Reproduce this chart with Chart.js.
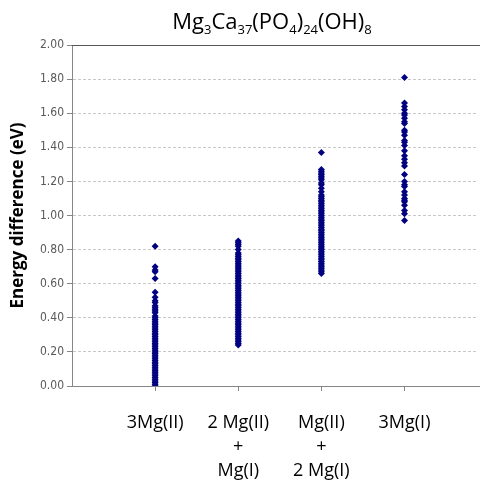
<!DOCTYPE html>
<html>
<head>
<meta charset="utf-8">
<script src="https://cdn.jsdelivr.net/npm/chart.js@4"></script>
<style>
  body { margin: 0; background: #fff; }
  #wrap { position: relative; width: 480px; height: 484px; overflow: hidden; }
  #title {
    position: absolute; left: 64px; right: 0; top: 6px;
    text-align: center; font-family: "Open Sans", sans-serif;
    font-size: 22px; color: #000; line-height: 28px;
  }
  #title sub { font-size: 13px; vertical-align: -5px; line-height: 0; }
</style>
</head>
<body>
<div id="wrap">
  <canvas id="myChart" width="480" height="484"></canvas>
  <div id="title">Mg<sub>3</sub>Ca<sub>37</sub>(PO<sub>4</sub>)<sub>24</sub>(OH)<sub>8</sub></div>
</div>
<script>
// categories on the x axis (placed at 1, 2, 3, 4)
var categories = [
  ['3Mg(II)'],
  ['2 Mg(II)', '+', 'Mg(I)'],
  ['Mg(II)', '+', '2 Mg(I)'],
  ['3Mg(I)']
];
var xTicks = [1, 2, 3, 4];
var yTicks = [0, 0.2, 0.4, 0.6, 0.8, 1.0, 1.2, 1.4, 1.6, 1.8, 2.0];

// energy differences (eV)
var mg3II = [0.82, 0.70, 0.68, 0.67, 0.63, 0.55, 0.52, 0.50, 0.49, 0.47, 0.46, 0.45,
  0.44, 0.43, 0.41, 0.40, 0.39, 0.38, 0.37, 0.36, 0.35, 0.34, 0.33, 0.32, 0.31, 0.30,
  0.29, 0.28, 0.27, 0.26, 0.25, 0.24, 0.23, 0.22, 0.21, 0.20, 0.19, 0.18, 0.17, 0.16,
  0.15, 0.14, 0.13, 0.12, 0.11, 0.10, 0.09, 0.08, 0.07, 0.06, 0.05, 0.04, 0.03, 0.02,
  0.01, 0.00];
var mg2II1I = [0.85, 0.84, 0.83, 0.82, 0.80, 0.78, 0.77, 0.76, 0.75, 0.74, 0.73, 0.72,
  0.71, 0.70, 0.69, 0.68, 0.67, 0.66, 0.65, 0.64, 0.63, 0.62, 0.61, 0.60, 0.59, 0.58,
  0.57, 0.56, 0.55, 0.54, 0.53, 0.52, 0.51, 0.50, 0.49, 0.48, 0.47, 0.46, 0.45, 0.44,
  0.43, 0.42, 0.41, 0.40, 0.39, 0.38, 0.37, 0.36, 0.35, 0.34, 0.33, 0.32, 0.31, 0.30,
  0.29, 0.28, 0.27, 0.26, 0.25, 0.24];
var mg1II2I = [1.37, 1.27, 1.26, 1.25, 1.24, 1.23, 1.22, 1.21, 1.19, 1.18, 1.16, 1.14,
  1.12, 1.11, 1.10, 1.09, 1.08, 1.07, 1.06, 1.05, 1.04, 1.03, 1.02, 1.01, 1.00, 0.99,
  0.98, 0.97, 0.96, 0.95, 0.94, 0.93, 0.92, 0.91, 0.90, 0.89, 0.88, 0.87, 0.86, 0.85,
  0.84, 0.83, 0.82, 0.81, 0.80, 0.79, 0.78, 0.77, 0.76, 0.75, 0.74, 0.73, 0.72, 0.71,
  0.70, 0.69, 0.68, 0.67, 0.66];
var mg3I = [1.81, 1.66, 1.64, 1.62, 1.60, 1.59, 1.57, 1.55, 1.54, 1.50, 1.49, 1.47,
  1.44, 1.43, 1.41, 1.38, 1.35, 1.33, 1.31, 1.29, 1.24, 1.20, 1.18, 1.17, 1.14, 1.12,
  1.10, 1.09, 1.08, 1.06, 1.03, 1.01, 0.97];

var series = [mg3II, mg2II1I, mg1II2I, mg3I];

var points = [];
series.forEach(function(vals, i) {
  vals.forEach(function(v) {
    points.push({ x: xTicks[i], y: v });
  });
});

// solid line along the top of the plot area, and the x axis carried to the edge
var frameLines = {
  id: 'frameLines',
  afterDraw: function(chart) {
    var a = chart.chartArea;
    var c = chart.ctx;
    c.save();
    c.lineWidth = 1;
    c.strokeStyle = '#555555';
    c.beginPath();
    c.moveTo(a.left, Math.round(a.top) + 0.5);
    c.lineTo(chart.width, Math.round(a.top) + 0.5);
    c.stroke();
    c.strokeStyle = '#868686';
    c.beginPath();
    c.moveTo(a.right, Math.round(a.bottom) + 0.5);
    c.lineTo(chart.width, Math.round(a.bottom) + 0.5);
    c.stroke();
    c.restore();
  }
};

var ctx = document.getElementById('myChart').getContext('2d');
var myChart = new Chart(ctx, {
  type: 'scatter',
  data: {
    datasets: [{
      label: 'Energy difference',
      data: points,
      pointStyle: 'rectRot',
      pointRadius: 3.5,
      backgroundColor: '#000080',
      borderColor: '#000080',
      borderWidth: 0
    }]
  },
  plugins: [frameLines],
  options: {
    responsive: false,
    animation: false,
    layout: { padding: { top: 45, right: 0, left: 0, bottom: 0 } },
    plugins: {
      legend: { display: false },
      tooltip: { enabled: false }
    },
    scales: {
      x: {
        type: 'linear',
        min: 0,
        max: 4.86,
        afterBuildTicks: function(scale) {
          scale.ticks = xTicks.map(function(v) { return { value: v }; });
        },
        afterFit: function(scale) { scale.height = 98; },
        ticks: {
          autoSkip: false,
          maxRotation: 0,
          padding: 20,
          color: '#000',
          font: { family: '"Open Sans", sans-serif', size: 18, lineHeight: 1.33 },
          callback: function(v) { return categories[xTicks.indexOf(v)] || ''; }
        },
        grid: { drawOnChartArea: false, drawTicks: true, tickLength: 5, color: '#868686' },
        border: { color: '#868686', width: 1 }
      },
      y: {
        min: 0,
        max: 2,
        afterBuildTicks: function(scale) {
          scale.ticks = yTicks.map(function(v) { return { value: v }; });
        },
        afterFit: function(scale) { scale.width = 72; },
        title: {
          display: true,
          text: 'Energy difference (eV)',
          color: '#000',
          padding: { top: 8, bottom: 2 },
          font: { family: '"Open Sans", sans-serif', size: 17, weight: 'bold' }
        },
        ticks: {
          padding: 3,
          color: '#595959',
          font: { family: '"Liberation Sans Narrow", "DejaVu Sans Condensed", sans-serif', size: 12 },
          callback: function(v) { return v.toFixed(2); }
        },
        grid: { color: '#c8c8c8', tickColor: '#868686', tickLength: 5 },
        border: { color: '#868686', width: 1, dash: [3, 2] }
      }
    }
  }
});
</script>
</body>
</html>
